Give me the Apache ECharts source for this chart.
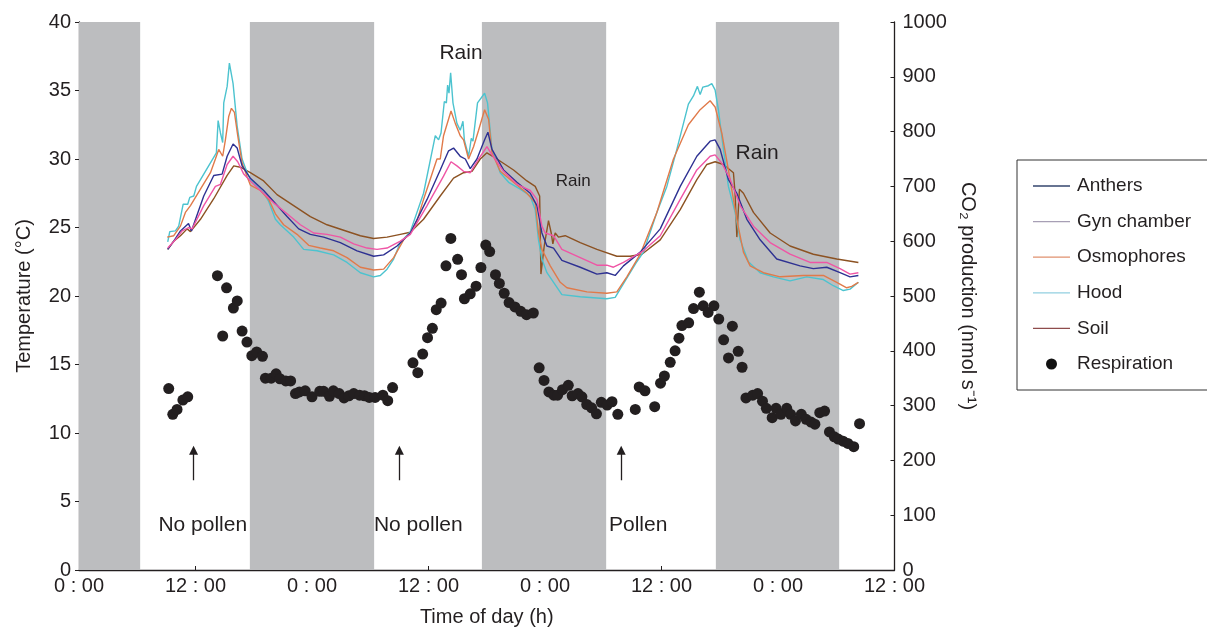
<!DOCTYPE html>
<html>
<head>
<meta charset="utf-8">
<script src="https://cdn.jsdelivr.net/npm/echarts@6/dist/echarts.min.js"></script>
<style>html,body{margin:0;padding:0;background:#fff}#c{width:1207px;height:632px}</style>
</head>
<body>
<div id="c"></div>
<script>
// time (h), temperature (°C)
const anthers = [[9.14,23.4],[9.76,24.0],[10.45,24.75],[11.28,25.3],[11.58,24.75],[12.85,27.3],[13.88,28.8],[14.74,28.9],[15.26,30.2],[15.87,31.1],[16.29,30.8],[16.80,29.5],[17.65,28.6],[19.02,27.7],[20.05,26.9],[21.43,25.8],[22.63,24.9],[23.83,24.5],[25.20,24.3],[26.92,23.9],[28.64,23.3],[30.35,22.9],[31.38,23.0],[32.76,23.65],[34.13,24.6],[35.85,27.05],[37.21,29.2],[38.07,30.6],[38.58,30.8],[39.27,30.2],[39.79,30.0],[40.30,29.3],[40.99,30.0],[41.78,31.4],[42.12,31.95],[42.54,30.7],[43.73,29.2],[45.11,28.3],[46.48,27.5],[47.17,26.6],[47.68,24.6],[48.20,23.65],[48.88,23.5],[49.74,22.6],[51.63,22.1],[53.35,21.6],[54.37,21.7],[55.23,21.5],[56.08,22.2],[57.81,23.2],[59.87,24.9],[61.93,28.0],[63.64,30.2],[65.01,31.3],[65.52,31.4],[66.04,30.7],[66.89,28.5],[67.76,27.5],[68.79,25.6],[70.16,24.1],[71.87,22.7],[74.27,22.2],[75.64,22.0],[77.02,22.1],[78.39,21.7],[79.42,21.4],[80.28,21.5]];
const gynChamber = [[9.14,23.5],[9.93,24.1],[10.62,24.75],[11.30,25.0],[11.65,24.9],[12.85,26.6],[14.05,28.0],[14.57,28.15],[15.26,29.6],[15.87,30.2],[16.35,29.8],[16.97,28.9],[17.65,28.4],[18.68,27.7],[20.05,26.8],[21.43,26.0],[22.80,25.2],[24.17,24.6],[25.55,24.5],[26.92,24.3],[28.29,23.8],[29.67,23.5],[30.70,23.4],[31.73,23.5],[33.10,24.0],[34.13,24.5],[35.85,26.6],[37.55,28.75],[38.32,29.8],[38.93,29.5],[39.61,29.1],[40.30,29.0],[41.16,30.0],[42.02,30.9],[42.54,30.3],[43.73,29.1],[45.11,28.15],[46.48,27.7],[47.17,27.05],[47.68,25.1],[48.02,24.6],[48.88,24.4],[49.74,23.4],[51.63,22.8],[53.35,22.25],[54.37,22.25],[55.05,22.1],[56.08,22.45],[58.14,23.3],[59.87,24.4],[61.93,27.05],[63.64,29.2],[65.01,30.2],[65.52,30.3],[66.21,29.7],[67.08,28.5],[68.11,26.6],[69.47,25.1],[71.19,23.9],[73.24,23.05],[75.30,22.45],[77.02,22.45],[78.39,22.0],[79.42,21.6],[80.28,21.7]];
const osmophores = [[9.08,24.3],[9.76,24.4],[10.45,25.1],[10.96,26.1],[11.48,26.6],[12.51,27.8],[13.54,29.0],[14.05,30.0],[14.39,30.7],[14.80,30.2],[15.08,31.4],[15.42,33.1],[15.70,33.7],[16.01,33.4],[16.35,31.7],[16.80,29.7],[17.32,28.7],[17.65,28.1],[18.68,27.7],[19.54,27.05],[20.23,26.0],[21.08,25.2],[22.46,24.5],[23.66,23.7],[24.86,23.5],[26.23,23.3],[27.61,22.8],[28.98,22.1],[30.35,21.9],[31.38,21.96],[32.41,22.8],[33.44,24.1],[34.13,24.6],[34.82,25.5],[35.49,27.05],[36.87,30.0],[37.21,30.0],[37.55,31.7],[38.32,33.5],[38.76,32.6],[39.27,31.7],[39.61,31.4],[40.13,30.0],[40.64,30.9],[41.16,32.1],[41.78,33.6],[42.19,32.9],[42.54,30.45],[43.39,29.1],[44.76,28.3],[46.14,27.5],[46.99,26.8],[47.33,24.6],[47.68,23.4],[48.54,22.2],[49.57,21.0],[50.26,20.6],[52.32,20.3],[54.37,20.2],[55.40,20.3],[56.43,21.4],[57.81,23.05],[59.52,26.1],[61.23,30.0],[62.77,32.5],[63.98,33.6],[65.01,34.25],[65.52,33.8],[66.21,31.9],[66.89,29.2],[67.76,25.6],[68.44,23.2],[69.13,22.2],[70.50,21.7],[72.22,21.4],[74.61,21.5],[76.67,21.5],[78.05,21.0],[79.08,20.6],[79.60,20.7],[80.28,21.0]];
const hood = [[9.14,23.95],[9.35,24.7],[9.93,24.75],[10.27,25.1],[10.73,26.7],[11.20,26.7],[11.41,27.2],[11.82,27.3],[12.10,28.0],[12.85,28.9],[14.15,30.45],[14.33,32.8],[14.57,31.9],[14.80,31.2],[14.91,34.1],[15.26,35.3],[15.49,37.0],[15.87,35.5],[16.29,32.4],[16.80,30.0],[17.32,29.0],[17.65,28.5],[19.02,27.5],[19.54,26.9],[20.23,25.6],[20.74,25.2],[22.11,24.3],[23.14,23.4],[24.52,23.3],[26.23,23.0],[27.61,22.45],[28.98,21.7],[30.35,21.4],[31.04,21.5],[31.73,21.96],[32.41,22.7],[33.10,23.9],[34.13,24.7],[35.49,27.5],[36.70,31.7],[37.04,31.4],[37.29,31.9],[37.63,34.2],[37.84,34.1],[37.97,35.4],[38.11,34.8],[38.28,36.3],[38.52,34.1],[38.93,32.6],[39.27,32.1],[39.55,32.75],[39.69,31.4],[40.13,30.2],[40.41,31.5],[40.58,31.3],[41.05,34.1],[41.78,34.8],[42.08,34.1],[42.54,30.7],[43.39,29.0],[44.25,28.3],[45.45,27.8],[46.48,27.3],[46.99,26.3],[47.33,24.1],[47.68,22.7],[48.20,21.7],[49.74,20.1],[51.63,19.95],[54.37,19.8],[55.23,19.9],[55.74,20.5],[57.46,22.5],[58.14,23.2],[59.52,26.1],[60.55,28.0],[61.58,30.7],[62.77,34.0],[63.29,34.6],[63.70,35.3],[63.98,34.7],[64.26,35.25],[64.83,35.35],[65.18,35.5],[65.52,35.05],[65.86,33.6],[66.38,30.7],[66.89,28.0],[67.58,26.1],[68.10,24.1],[68.95,22.5],[70.16,21.7],[71.53,21.4],[73.24,21.1],[74.96,21.4],[76.67,21.2],[77.70,20.75],[78.73,20.4],[79.42,20.5],[80.28,21.0]];
const soil = [[9.14,23.4],[9.76,24.0],[10.45,24.4],[11.14,24.9],[11.48,24.7],[12.51,25.6],[13.88,27.1],[15.26,28.8],[15.94,29.5],[16.63,29.4],[17.65,29.0],[19.02,28.4],[20.40,27.4],[22.11,26.6],[23.83,25.8],[25.55,25.2],[27.26,24.8],[28.98,24.4],[30.35,24.2],[31.73,24.3],[33.10,24.5],[34.13,24.65],[35.49,25.6],[37.21,27.3],[38.58,28.6],[39.61,29.0],[40.48,29.1],[41.33,30.0],[42.02,30.45],[43.05,30.0],[44.76,29.2],[46.14,28.4],[46.99,28.0],[47.45,27.3],[47.58,21.6],[47.92,23.65],[48.36,25.5],[48.64,24.6],[48.81,23.8],[49.05,24.6],[49.39,24.3],[50.08,24.4],[51.63,23.9],[53.35,23.4],[55.40,22.9],[56.77,22.9],[57.98,23.05],[59.87,24.1],[61.93,26.3],[63.64,28.5],[64.67,29.6],[65.52,29.8],[66.38,29.6],[67.41,29.0],[67.58,27.5],[67.76,24.3],[68.03,27.8],[68.44,27.5],[69.47,26.1],[71.19,24.6],[73.24,23.65],[75.64,23.05],[78.05,22.7],[80.28,22.45]];
// time (h), CO2 production (nmol s-1)
const respiration = [[9.24,331],[9.66,284],[10.1,293],[10.7,310],[11.2,316],[14.26,537],[14.8,427],[15.2,515],[15.9,478],[16.3,491],[16.8,436],[17.3,416],[17.8,391],[18.3,398],[18.9,390],[19.2,350],[19.8,350],[20.3,358],[20.7,349],[21.3,345],[21.8,345],[22.3,322],[22.7,325],[23.3,327],[24.0,316],[24.8,326],[25.2,326],[25.8,317],[26.2,327],[26.8,322],[27.3,314],[27.8,318],[28.3,322],[28.9,319],[29.4,318],[29.9,315],[30.5,315],[31.3,319],[31.8,309],[32.3,333],[34.4,378],[34.9,360],[35.4,394],[35.9,424],[36.4,441],[36.8,475],[37.3,487],[37.8,555],[38.3,605],[39.0,567],[39.4,539],[39.7,495],[40.3,504],[40.9,518],[41.4,552],[41.9,593],[42.3,581],[42.9,539],[43.3,523],[43.8,505],[44.3,488],[44.9,480],[45.5,472],[46.1,466],[46.8,469],[47.4,369],[47.9,346],[48.4,325],[48.9,319],[49.3,319],[49.8,329],[50.4,337],[50.8,318],[51.4,322],[51.8,316],[52.3,302],[52.8,296],[53.3,285],[53.8,306],[54.4,301],[54.9,307],[55.5,284],[57.3,293],[57.7,334],[58.3,327],[59.3,298],[59.9,341],[60.3,354],[60.9,379],[61.4,400],[61.8,423],[62.1,446],[62.8,451],[63.3,477],[63.9,507],[64.3,482],[64.8,470],[65.4,482],[65.9,458],[66.4,420],[66.9,387],[67.3,445],[67.9,399],[68.3,370],[68.7,314],[69.4,319],[69.9,322],[70.4,308],[70.8,295],[71.4,278],[71.8,295],[72.3,284],[72.9,295],[73.3,284],[73.8,272],[74.4,284],[74.9,275],[75.4,270],[75.8,266],[76.3,287],[76.8,290],[77.3,252],[77.8,243],[78.2,239],[78.7,235],[79.2,231],[79.8,225],[80.4,267]];
// night periods (h)
const nightStart = [0, 17.6, 41.5, 65.6];
const nightEnd = [6.3, 30.4, 54.3, 78.3];
// x tick labels every 12 h
const xTickLabels = ['0 : 00','12 : 00','0 : 00','12 : 00','0 : 00','12 : 00','0 : 00','12 : 00'];
// pollen arrows (h) and labels
const arrowTimes = [11.8, 33.0, 55.85];
const pollenLabels = ['No pollen','No pollen','Pollen'];
const pollenLabelTimes = [12.75, 34.95, 57.6];
// rain notes: time (h), temperature (°C)
const rainNotes = [[39.35, 37.7], [50.9, 28.4], [69.85, 30.45]];

const FONT = '"Liberation Sans", Arial, Helvetica, sans-serif';
const INK = '#231f20';

const lineDefs = [
  {name:'Anthers', data:anthers, color:'#2e3192', legend:'#34466e'},
  {name:'Gyn chamber', data:gynChamber, color:'#ef55a5', legend:'#a79fb5'},
  {name:'Osmophores', data:osmophores, color:'#e07a4a', legend:'#e0916f'},
  {name:'Hood', data:hood, color:'#4cc3cf', legend:'#92cfe0'},
  {name:'Soil', data:soil, color:'#8c5222', legend:'#8e4c4c'}
];

const series = [];
series.push({
  name:'nights', type:'line', data:[], z:1, silent:true,
  markArea:{silent:true, itemStyle:{color:'#bcbdbf', opacity:1},
    data: nightStart.map((s,i)=>[{xAxis:s},{xAxis:nightEnd[i]}])}
});
const drawOrder = ['Soil','Hood','Osmophores','Anthers','Gyn chamber'];
drawOrder.forEach((n,k)=>{
  const d = lineDefs.find(l=>l.name===n);
  series.push({name:d.name, type:'line', data:d.data, symbol:'none', showSymbol:false,
    z:3+k, lineStyle:{color:d.color, width:1.4}, itemStyle:{color:d.color}, animation:false});
});
series.push({name:'Respiration', type:'scatter', yAxisIndex:1, data:respiration,
  symbolSize:11, itemStyle:{color:INK, opacity:1}, z:10, animation:false});
const noteLabel = (text, size) => ({show:true, formatter:text, fontSize:size, color:INK, fontFamily:FONT, position:'inside', opacity:1});
series.push({
  name:'notes', type:'scatter', symbolSize:1, z:12, silent:true, animation:false,
  itemStyle:{color:'rgba(0,0,0,0)', opacity:1},
  data: [
    ...rainNotes.map((p,i)=>({value:p, label:noteLabel('Rain', i===1?17:21)})),
    ...pollenLabels.map((t,i)=>({value:[pollenLabelTimes[i], 3.27], label:noteLabel(t, 21)}))
  ],
  markLine:{silent:true, symbol:['none','triangle'], symbolSize:9, label:{show:false},
    lineStyle:{color:INK, width:1.3, type:'solid', opacity:1},
    data: arrowTimes.map(t=>[{coord:[t,6.55]},{coord:[t,8.75]}])}
});

const option = {
  animation:false,
  textStyle:{fontFamily:FONT},
  grid:{left:79, right:312.5, top:22, bottom:60, containLabel:false},
  legend:{
    orient:'vertical', left:1017, top:160,
    padding:[16,60,16,16], itemGap:15.6, itemWidth:37, itemHeight:11,
    borderColor:'#333', borderWidth:1,
    textStyle:{fontSize:19, color:INK, fontFamily:FONT, lineHeight:20, padding:[0,0,0,2]},
    data:[
      ...lineDefs.map(d=>({name:d.name, icon:'path://M0,0H37V1.3H0Z', itemStyle:{color:d.legend}})),
      {name:'Respiration', icon:'circle', itemStyle:{color:'#111'}}
    ]
  },
  xAxis:{
    type:'value', min:0, max:84, interval:12,
    name:'Time of day (h)', nameLocation:'middle', nameGap:37,
    nameTextStyle:{fontSize:20, color:INK},
    axisLine:{lineStyle:{color:INK, width:1.3}},
    axisTick:{inside:true, length:4, lineStyle:{color:INK}},
    axisLabel:{fontSize:20, color:INK, margin:6, formatter:(v)=>xTickLabels[Math.round(v/12)]},
    splitLine:{show:false}
  },
  yAxis:[
    {type:'value', min:0, max:40, interval:5, position:'left',
     name:'Temperature (°C)', nameLocation:'middle', nameGap:45, nameRotate:90,
     nameTextStyle:{fontSize:20, color:INK},
     axisLine:{show:true, lineStyle:{color:INK, width:1.3}},
     axisTick:{show:true, length:4, lineStyle:{color:INK}},
     axisLabel:{fontSize:20, color:INK, margin:8},
     splitLine:{show:false}},
    {type:'value', min:0, max:1000, interval:100, position:'right',
     name:'CO₂ production (nmol s⁻¹)', nameLocation:'middle', nameGap:58, nameRotate:-90,
     nameTextStyle:{fontSize:20, color:INK},
     axisLine:{show:true, lineStyle:{color:INK, width:1.3}},
     axisTick:{show:true, inside:true, length:4, lineStyle:{color:INK}},
     axisLabel:{fontSize:20, color:INK, margin:8, formatter:(v)=>String(v)},
     splitLine:{show:false}}
  ],
  series: series
};
const chart = echarts.init(document.getElementById('c'), null, {renderer:'canvas'});
chart.setOption(option);
</script>
</body>
</html>
